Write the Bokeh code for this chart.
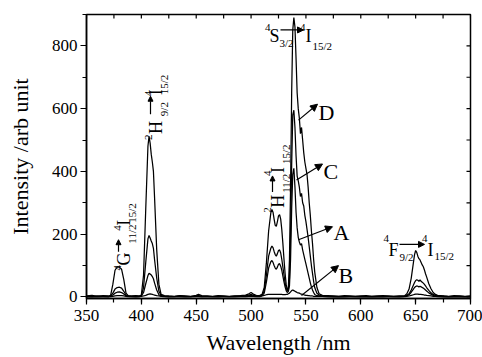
import math
from bokeh.plotting import figure
from bokeh.models import Range1d, Label, Arrow, NormalHead, SingleIntervalTicker
from bokeh.embed import file_html
from bokeh.resources import INLINE

# ---------------- data ----------------
wavelength = [
    350, 355, 360, 365, 370,
    372, 374, 376, 378, 380, 382, 384, 386, 388,
    391, 395, 398,
    400, 402, 404, 406, 407, 408, 409, 410, 411, 412, 414, 416, 418,
    421, 425, 430, 435, 440, 445, 450, 452, 455, 460, 465, 470, 475, 480, 485, 490, 495, 498, 500, 502, 505, 508,
    510, 512, 514, 516, 518, 519, 520, 521, 522, 523, 524, 525, 526, 527, 528, 529, 530, 531, 532, 533, 534,
    535, 536, 537, 538, 539, 540, 541, 542, 543, 544, 545, 546, 547, 548, 549, 550, 551, 552, 553, 554, 555, 556, 557, 558, 560, 562, 565,
    570, 575, 580, 585, 590, 595, 600, 605, 610, 615, 620, 625, 630, 635, 638,
    640, 642, 644, 646, 648, 649, 650, 651, 652, 653, 654, 655, 656, 657, 658, 659, 660, 662, 664, 666, 668, 670,
    673, 676, 680, 685, 690, 695, 700,
]

series_D = [
    3, 5, 2, 4, 3,
    5, 40, 85, 96, 95, 88, 55, 12, 4,
    3, 4, 3,
    6, 70, 280, 480, 512, 490, 455, 430, 400, 320, 150, 40, 8,
    4, 3, 2, 4, 3, 2, 5, 8, 4, 3, 2, 4, 3, 2, 3, 4, 6, 10, 14, 9, 4, 5,
    8, 30, 110, 210, 268, 279, 270, 248, 228, 225, 240, 258, 262, 248, 215, 170, 120, 75, 40, 22, 30,
    120, 350, 650, 850, 890, 860, 760, 650, 600, 570, 520, 540, 500, 460, 430, 410, 390, 350, 300, 260, 210, 170, 120, 80, 30, 10, 5,
    4, 3, 2, 4, 3, 2, 3, 4, 2, 3, 4, 3, 2, 3, 3,
    4, 10, 25, 60, 110, 135, 148, 142, 130, 122, 118, 110, 102, 96, 86, 74, 64, 42, 26, 14, 8, 5,
    4, 3, 2, 4, 3, 2, 3,
]

series_C = [
    2, 1, 3, 2, 1,
    3, 12, 25, 30, 31, 28, 18, 6, 3,
    2, 2, 2,
    4, 30, 110, 185, 196, 188, 178, 170, 155, 120, 60, 18, 5,
    2, 2, 1, 3, 2, 1, 3, 4, 2, 2, 1, 2, 2, 1, 2, 3, 4, 6, 8, 5, 3, 3,
    5, 20, 70, 130, 155, 162, 157, 145, 135, 130, 138, 148, 150, 140, 120, 95, 70, 45, 28, 20, 25,
    60, 200, 420, 580, 595, 540, 450, 385, 370, 350, 320, 330, 300, 290, 260, 240, 215, 190, 160, 130, 100, 75, 50, 30, 12, 6, 3,
    2, 2, 1, 2, 2, 1, 2, 2, 1, 2, 2, 2, 1, 2, 2,
    2, 5, 10, 22, 38, 46, 52, 55, 53, 50, 54, 50, 47, 44, 40, 35, 30, 21, 13, 8, 5, 3,
    2, 2, 1, 2, 2, 1, 2,
]

series_A = [
    1, 2, 1, 2, 2,
    2, 6, 12, 15, 16, 14, 9, 4, 2,
    1, 2, 1,
    3, 14, 42, 68, 75, 73, 70, 65, 58, 45, 22, 7, 3,
    2, 1, 1, 2, 1, 1, 2, 3, 2, 1, 1, 2, 1, 1, 2, 2, 3, 4, 5, 3, 2, 2,
    4, 12, 48, 92, 112, 116, 110, 100, 92, 88, 95, 104, 106, 98, 85, 66, 48, 32, 20, 14, 18,
    35, 120, 280, 390, 410, 350, 270, 220, 190, 175, 165, 170, 150, 135, 120, 105, 90, 75, 60, 45, 32, 22, 14, 8, 4, 3, 2,
    1, 1, 2, 1, 1, 2, 1, 1, 2, 1, 1, 1, 2, 1, 1,
    2, 4, 7, 15, 25, 30, 33, 35, 34, 32, 34, 32, 30, 28, 25, 22, 19, 13, 9, 5, 3, 2,
    1, 2, 1, 1, 2, 1, 1,
]

series_B = [
    0, 1, 0, 1, 0,
    1, 2, 3, 4, 4, 4, 3, 2, 1,
    1, 0, 1,
    2, 3, 5, 8, 9, 10, 9, 8, 7, 6, 4, 3, 2,
    1, 0, 1, 1, 0, 1, 1, 1, 0, 1, 1, 0, 1, 1, 0, 1, 1, 2, 2, 2, 1, 1,
    3, 5, 7, 8, 8, 8, 8, 8, 8, 8, 8, 8, 8, 8, 8, 7, 7, 7, 8, 8, 10,
    12, 16, 20, 22, 20, 18, 16, 14, 13, 12, 10, 9, 8, 7, 6, 5, 5, 4, 4, 3, 3, 3, 2, 2, 2, 2, 2,
    1, 0, 1, 0, 1, 1, 0, 1, 0, 1, 0, 1, 1, 0, 1,
    1, 2, 3, 5, 7, 8, 9, 9, 9, 8, 8, 8, 7, 7, 6, 6, 5, 4, 3, 2, 2, 1,
    1, 0, 1, 0, 1, 0, 1,
]

for s in (series_D, series_C, series_A, series_B):
    assert len(s) == len(wavelength), (len(s), len(wavelength))

x_tick_step = 50
y_tick_step = 200
top_tick_positions = [350, 375, 400, 425, 450, 475, 500, 525, 550, 575, 600, 625, 650, 675, 700]
right_tick_positions = [0, 100, 200, 300, 400, 500, 600, 700, 800, 900]
x_title = "Wavelength /nm"
y_title = "Intensity /arb unit"

# ---------------- figure ----------------
X0, X1 = 350, 700
Y0, Y1 = -5, 900
FONT = "Liberation Serif"
W, H = 482, 357
B_LEFT, B_RIGHT, B_TOP, B_BOTTOM = 86, 12, 14, 58
FRAME_W = W - B_LEFT - B_RIGHT
FRAME_H = H - B_TOP - B_BOTTOM

p = figure(width=W, height=H,
           x_range=Range1d(X0, X1), y_range=Range1d(Y0, Y1),
           output_backend="svg", toolbar_location=None,
           min_border_left=B_LEFT, min_border_right=B_RIGHT,
           min_border_top=B_TOP, min_border_bottom=B_BOTTOM)
p.background_fill_color = "white"
p.border_fill_color = "white"
p.outline_line_color = "black"
p.outline_line_width = 1.5
p.xgrid.visible = False
p.ygrid.visible = False

for ys in (series_B, series_A, series_C, series_D):
    p.line(wavelength, ys, line_color="black", line_width=1.25)

def style_axis(ax):
    ax.axis_line_color = "black"
    ax.axis_line_width = 1.5
    ax.major_tick_line_color = "black"
    ax.minor_tick_line_color = "black"
    ax.major_tick_line_width = 1.2
    ax.minor_tick_line_width = 1.2
    ax.major_tick_in = 0
    ax.major_tick_out = 6
    ax.minor_tick_in = 0
    ax.minor_tick_out = 4
    ax.major_label_text_font = FONT
    ax.major_label_text_font_size = "17px"
    ax.major_label_text_font_style = "normal"
    ax.major_label_text_color = "black"
    ax.axis_label_text_font = FONT
    ax.axis_label_text_font_size = "22px"
    ax.axis_label_text_font_style = "normal"
    ax.axis_label_text_color = "black"

xb = p.xaxis[0]
xb.ticker = SingleIntervalTicker(interval=x_tick_step, num_minor_ticks=2)
style_axis(xb)
xb.axis_label = x_title
xb.major_label_standoff = 5
xb.axis_label_standoff = 6

yl = p.yaxis[0]
yl.ticker = SingleIntervalTicker(interval=y_tick_step, num_minor_ticks=2)
style_axis(yl)
yl.axis_label = y_title
yl.major_label_standoff = 3
yl.axis_label_standoff = 16

# inward ticks on the top and right frame edges (short dashes just inside the frame)
px_x = (X1 - X0) / FRAME_W
px_y = (Y1 - Y0) / FRAME_H
p.scatter(top_tick_positions, [Y1 - 2 * px_y] * len(top_tick_positions), marker="dash",
          size=4, angle=math.pi / 2, line_color="black", line_width=1.2)
p.scatter([X1 - 2 * px_x] * len(right_tick_positions), right_tick_positions, marker="dash",
          size=4, line_color="black", line_width=1.2)

# ---------------- annotations ----------------
def dx(px):
    return X0 + (px - B_LEFT) * px_x

def dy(py):
    return Y0 + (H - B_BOTTOM - py) * px_y

def piece(text, px, py, size, angle=0.0, align="left"):
    p.add_layout(Label(x=dx(px), y=dy(py), text=text, text_font=FONT,
                       text_font_size=f"{size}px", angle=angle,
                       text_align=align, text_baseline="alphabetic",
                       text_color="black"))

def arrow(x0, y0, x1, y1, size=7, width=1.2):
    p.add_layout(Arrow(x_start=dx(x0), y_start=dy(y0), x_end=dx(x1), y_end=dy(y1),
                       line_color="black", line_width=width,
                       end=NormalHead(size=size, fill_color="black", line_color="black")))

V = math.pi / 2
BIG, SMALL = 18, 11

# 4G11/2 -> 4I15/2 (vertical)
piece("4", 117, 271, SMALL, V)
piece("G", 123.5, 266, BIG, V)
piece("11/2", 131.5, 244, SMALL, V)
arrow(118, 252, 118, 240, size=5)
piece("4", 117, 231, SMALL, V)
piece("I", 123.5, 226, BIG, V)
piece("15/2", 131.5, 223, SMALL, V)

# 2H9/2 -> 4I15/2 (vertical)
piece("2", 148, 140, SMALL, V)
piece("H", 155.5, 134, BIG, V)
piece("9/2", 163.5, 116, SMALL, V)
arrow(150, 114, 150, 96, size=5)
piece("4", 148, 96, SMALL, V)
piece("I", 155.5, 95, BIG, V)
piece("15/2", 163.5, 94, SMALL, V)

# 2H11/2 -> 4I15/2 (vertical)
piece("2", 267, 213, SMALL, V)
piece("H", 277.5, 208, BIG, V)
piece("11/2", 285.5, 193, SMALL, V)
arrow(272, 192, 272, 176, size=5)
piece("4", 267, 176, SMALL, V)
piece("I", 277.5, 173, BIG, V)
piece("15/2", 285.5, 164, SMALL, V)

# 4S3/2 -> 4I15/2 (horizontal)
piece("4", 264.5, 27, SMALL)
piece("S", 269, 35.5, BIG)
piece("3/2", 279, 43, SMALL)
arrow(280, 29.5, 303, 29.5, size=6)
piece("4", 299.5, 27, SMALL)
piece("I", 305, 35.5, BIG)
piece("15/2", 312, 45.5, SMALL)

# 4F9/2 -> 4I15/2 (horizontal)
piece("4", 383, 238.5, SMALL)
piece("F", 388, 250, BIG)
piece("9/2", 399, 257, SMALL)
arrow(399, 244.7, 424, 244.7, size=6)
piece("4", 421.5, 238.5, SMALL)
piece("I", 427, 250, BIG)
piece("15/2", 434, 256, SMALL)

# series letters with pointer arrows
piece("D", 318, 112, 22)
arrow(298, 120, 317, 104)
piece("C", 323, 172, 22)
arrow(296, 180, 322, 164)
piece("A", 333, 233, 22)
arrow(298, 240, 332, 227)
piece("B", 338, 276, 22)
arrow(301, 296, 338, 266)

open("out.html", "w").write(file_html(p, INLINE))
